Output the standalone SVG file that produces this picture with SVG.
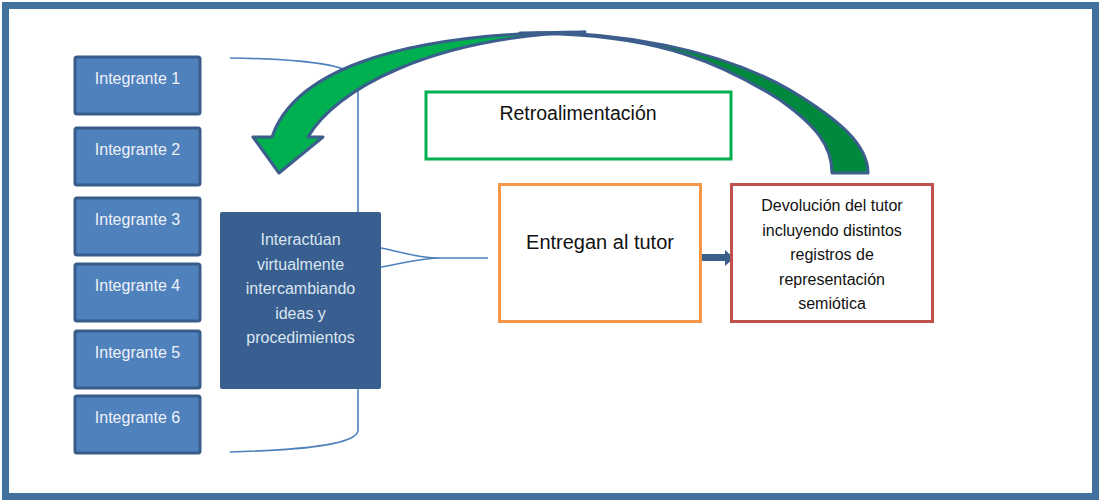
<svg xmlns="http://www.w3.org/2000/svg" width="1101" height="500" viewBox="0 0 1101 500">
<style>
.frame{fill:#ffffff;stroke:#41719C;stroke-width:7}
.member rect{fill:#4F81BD;stroke:#385D8A;stroke-width:3}
.member text{font-family:"Liberation Sans",Arial,sans-serif;font-size:16px;fill:#EEF2F8;text-anchor:middle}
.wtxt{font-family:"Liberation Sans",Arial,sans-serif;fill:#111111;text-anchor:middle}
.conn{fill:none;stroke:#4F81BD;stroke-width:1.6}
</style>
<rect class="frame" x="5.5" y="5.5" width="1090" height="491"/>
<g id="connectors">
  <path class="conn" d="M230,58 C300,59 358,64 358,82 L358,430 C358,445 300,450 230,452"/>
  <path class="conn" d="M381,248 C410,254 420,258 442,258 L488,258 M381,267 C410,262 420,258 442,258"/>
  <polygon points="698,254 725,254 725,250 734,258 725,266 725,261 698,261" fill="#3A5F8B"/>
</g>
<g id="integrante-1" class="member"><rect x="75" y="57" width="125" height="57" rx="2"/><text x="137.5" y="84">Integrante 1</text></g>
<g id="integrante-2" class="member"><rect x="75" y="128" width="125" height="57" rx="2"/><text x="137.5" y="155">Integrante 2</text></g>
<g id="integrante-3" class="member"><rect x="75" y="198" width="125" height="57" rx="2"/><text x="137.5" y="225">Integrante 3</text></g>
<g id="integrante-4" class="member"><rect x="75" y="264" width="125" height="57" rx="2"/><text x="137.5" y="291">Integrante 4</text></g>
<g id="integrante-5" class="member"><rect x="75" y="331" width="125" height="57" rx="2"/><text x="137.5" y="358">Integrante 5</text></g>
<g id="integrante-6" class="member"><rect x="75" y="396" width="125" height="57" rx="2"/><text x="137.5" y="423">Integrante 6</text></g>
<g id="interactuan">
  <rect x="220" y="212" width="161" height="177" rx="2" fill="#385F8F"/>
  <g font-family="Liberation Sans, Arial, sans-serif" font-size="16" fill="#DCE6F2" text-anchor="middle">
    <text x="300.5" y="245">Interactúan</text>
    <text x="300.5" y="269.5">virtualmente</text>
    <text x="300.5" y="294">intercambiando</text>
    <text x="300.5" y="318.5">ideas y</text>
    <text x="300.5" y="343">procedimientos</text>
  </g>
</g>
<g id="retroalimentacion">
  <rect x="426" y="92" width="305" height="67" fill="#ffffff" stroke="#00B050" stroke-width="3"/>
  <text class="wtxt" x="578" y="120" font-size="19.5">Retroalimentación</text>
</g>
<g id="entregan">
  <rect x="499.5" y="184.5" width="201" height="137" fill="#ffffff" stroke="#F79646" stroke-width="3"/>
  <text class="wtxt" x="600" y="249" font-size="20">Entregan al tutor</text>
</g>
<g id="devolucion">
  <rect x="731.5" y="184.5" width="201" height="137" fill="#ffffff" stroke="#C0504D" stroke-width="3"/>
  <g class="wtxt" font-size="16" fill="#1a1a1a">
    <text x="832" y="211">Devolución del tutor</text>
    <text x="832" y="235.5">incluyendo distintos</text>
    <text x="832" y="260">registros de</text>
    <text x="832" y="284.5">representación</text>
    <text x="832" y="309">semiótica</text>
  </g>
</g>
<g id="feedback-arrow" stroke="#3B5E8C" stroke-width="3" stroke-linejoin="round">
  <path fill="#00883C" d="M520,33 C620,30 720,50 790,90 C840,120 868,145 868,173 L832,173 C832,145 815,125 780,100 C720,62 660,38 560,34 Z"/>
  <path fill="#00B050" d="M272,137 C292,78 380,33 585,32 C430,37 335,90 308,137 L323,137 L279,173 L253,137 Z"/>
</g>
</svg>
